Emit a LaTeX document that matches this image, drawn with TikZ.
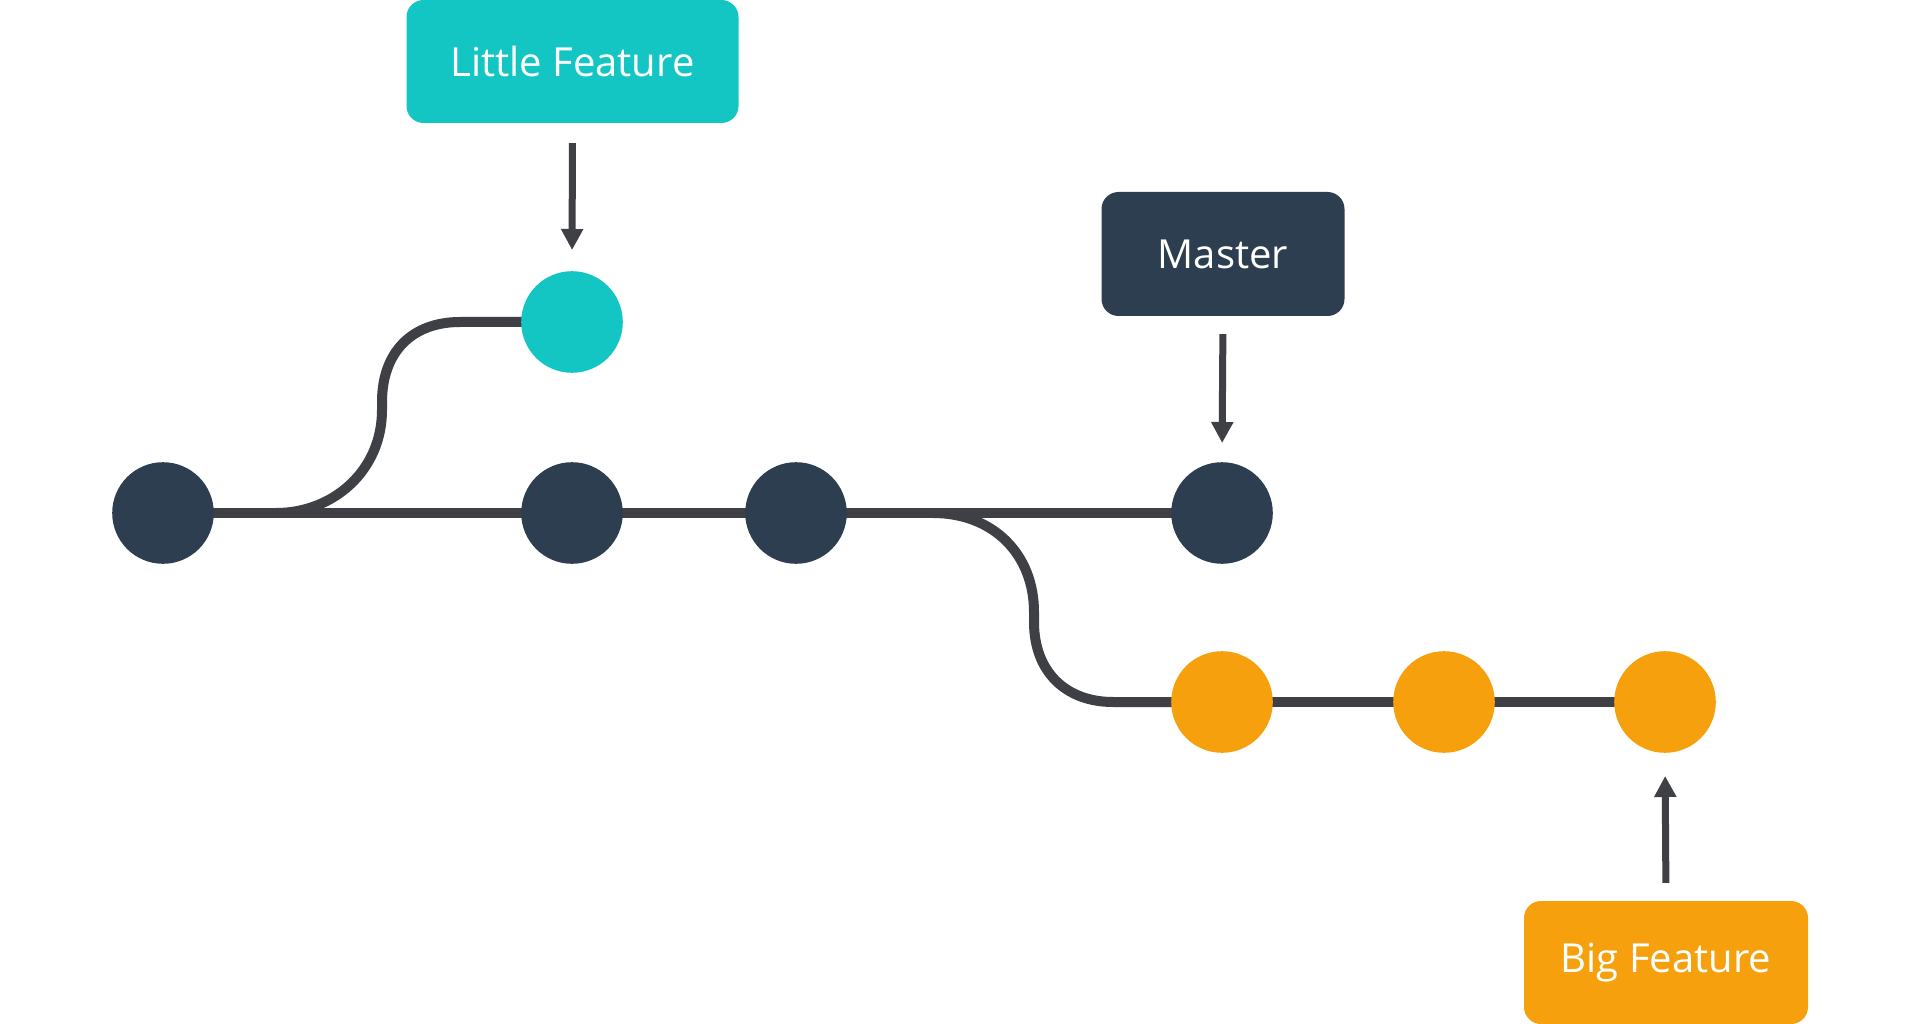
\documentclass[tikz,border=0pt]{standalone}
\usepackage{fontspec}
\setmainfont{Open Sans}
\usetikzlibrary{arrows.meta,backgrounds}
\definecolor{teal1}{HTML}{13C6C4}
\definecolor{navy}{HTML}{2D3E50}
\definecolor{orng}{HTML}{F5A00C}
\definecolor{wire}{HTML}{3F3F46}
\tikzset{
  commit/.style={circle, minimum size=101.6pt, inner sep=0pt, draw=none},
  label box/.style={rounded corners=17pt, inner sep=0pt, text=white,
     font=\fontsize{40}{48}\selectfont},
  wireline/.style={draw=wire, line width=10pt},
  pointer/.style={draw=wire, line width=7pt, -{Triangle[width=21pt,length=21pt]}},
}
\begin{document}
\begin{tikzpicture}[x=1pt,y=-1pt]
\path[use as bounding box] (0,0) rectangle (1920,1024);
% commits
\node[commit, fill=navy] (m1) at (163,513) {};
\node[commit, fill=navy] (m2) at (572,513) {};
\node[commit, fill=navy] (m3) at (796,513) {};
\node[commit, fill=navy] (m4) at (1222,513) {};
\node[commit, fill=teal1] (t1) at (572,322) {};
\node[commit, fill=orng] (b1) at (1222,702) {};
\node[commit, fill=orng] (b2) at (1444,702) {};
\node[commit, fill=orng] (b3) at (1665,702) {};
% branch points
\coordinate (fork1) at (276,513);
\coordinate (fork2) at (933,513);
% labels
\node[label box, fill=teal1, minimum width=332pt, minimum height=123pt] (lf) at (572.5,61.5) {Little Feature};
\node[label box, fill=navy, minimum width=243pt, minimum height=124pt] (ms) at (1223,254) {Master};
\node[label box, fill=orng, minimum width=284pt, minimum height=123pt] (bf) at (1666,962.5) {Big Feature};
% connectors
\begin{pgfonlayer}{background}
\fill[white] (0,0) rectangle (1920,1024);
\draw[wireline] (m1.center) -- (m2.center);
\draw[wireline] (m2.center) -- (m3.center);
\draw[wireline] (m3.center) -- (m4.center);
\draw[wireline] (b1.center) -- (b2.center);
\draw[wireline] (b2.center) -- (b3.center);
\draw[wireline] (fork1) .. controls (334,513) and (382,470) .. (382,410)
   -- (382,402) .. controls (382,352) and (412,322) .. (460,322) -- (t1.center);
\draw[wireline] (fork2) .. controls (994,513) and (1034,555) .. (1034,612)
   -- (1034,622) .. controls (1034,672) and (1066,702) .. (1113,702) -- (b1.center);
\end{pgfonlayer}
\draw[pointer, shorten <=20pt, shorten >=21pt] (lf.south) -- (t1.north);
\draw[pointer, shorten <=18pt, shorten >=19pt] (ms.south) -- (m4.north);
\draw[pointer, shorten <=18pt, shorten >=23pt] (bf.north) -- (b3.south);
\end{tikzpicture}
\end{document}
